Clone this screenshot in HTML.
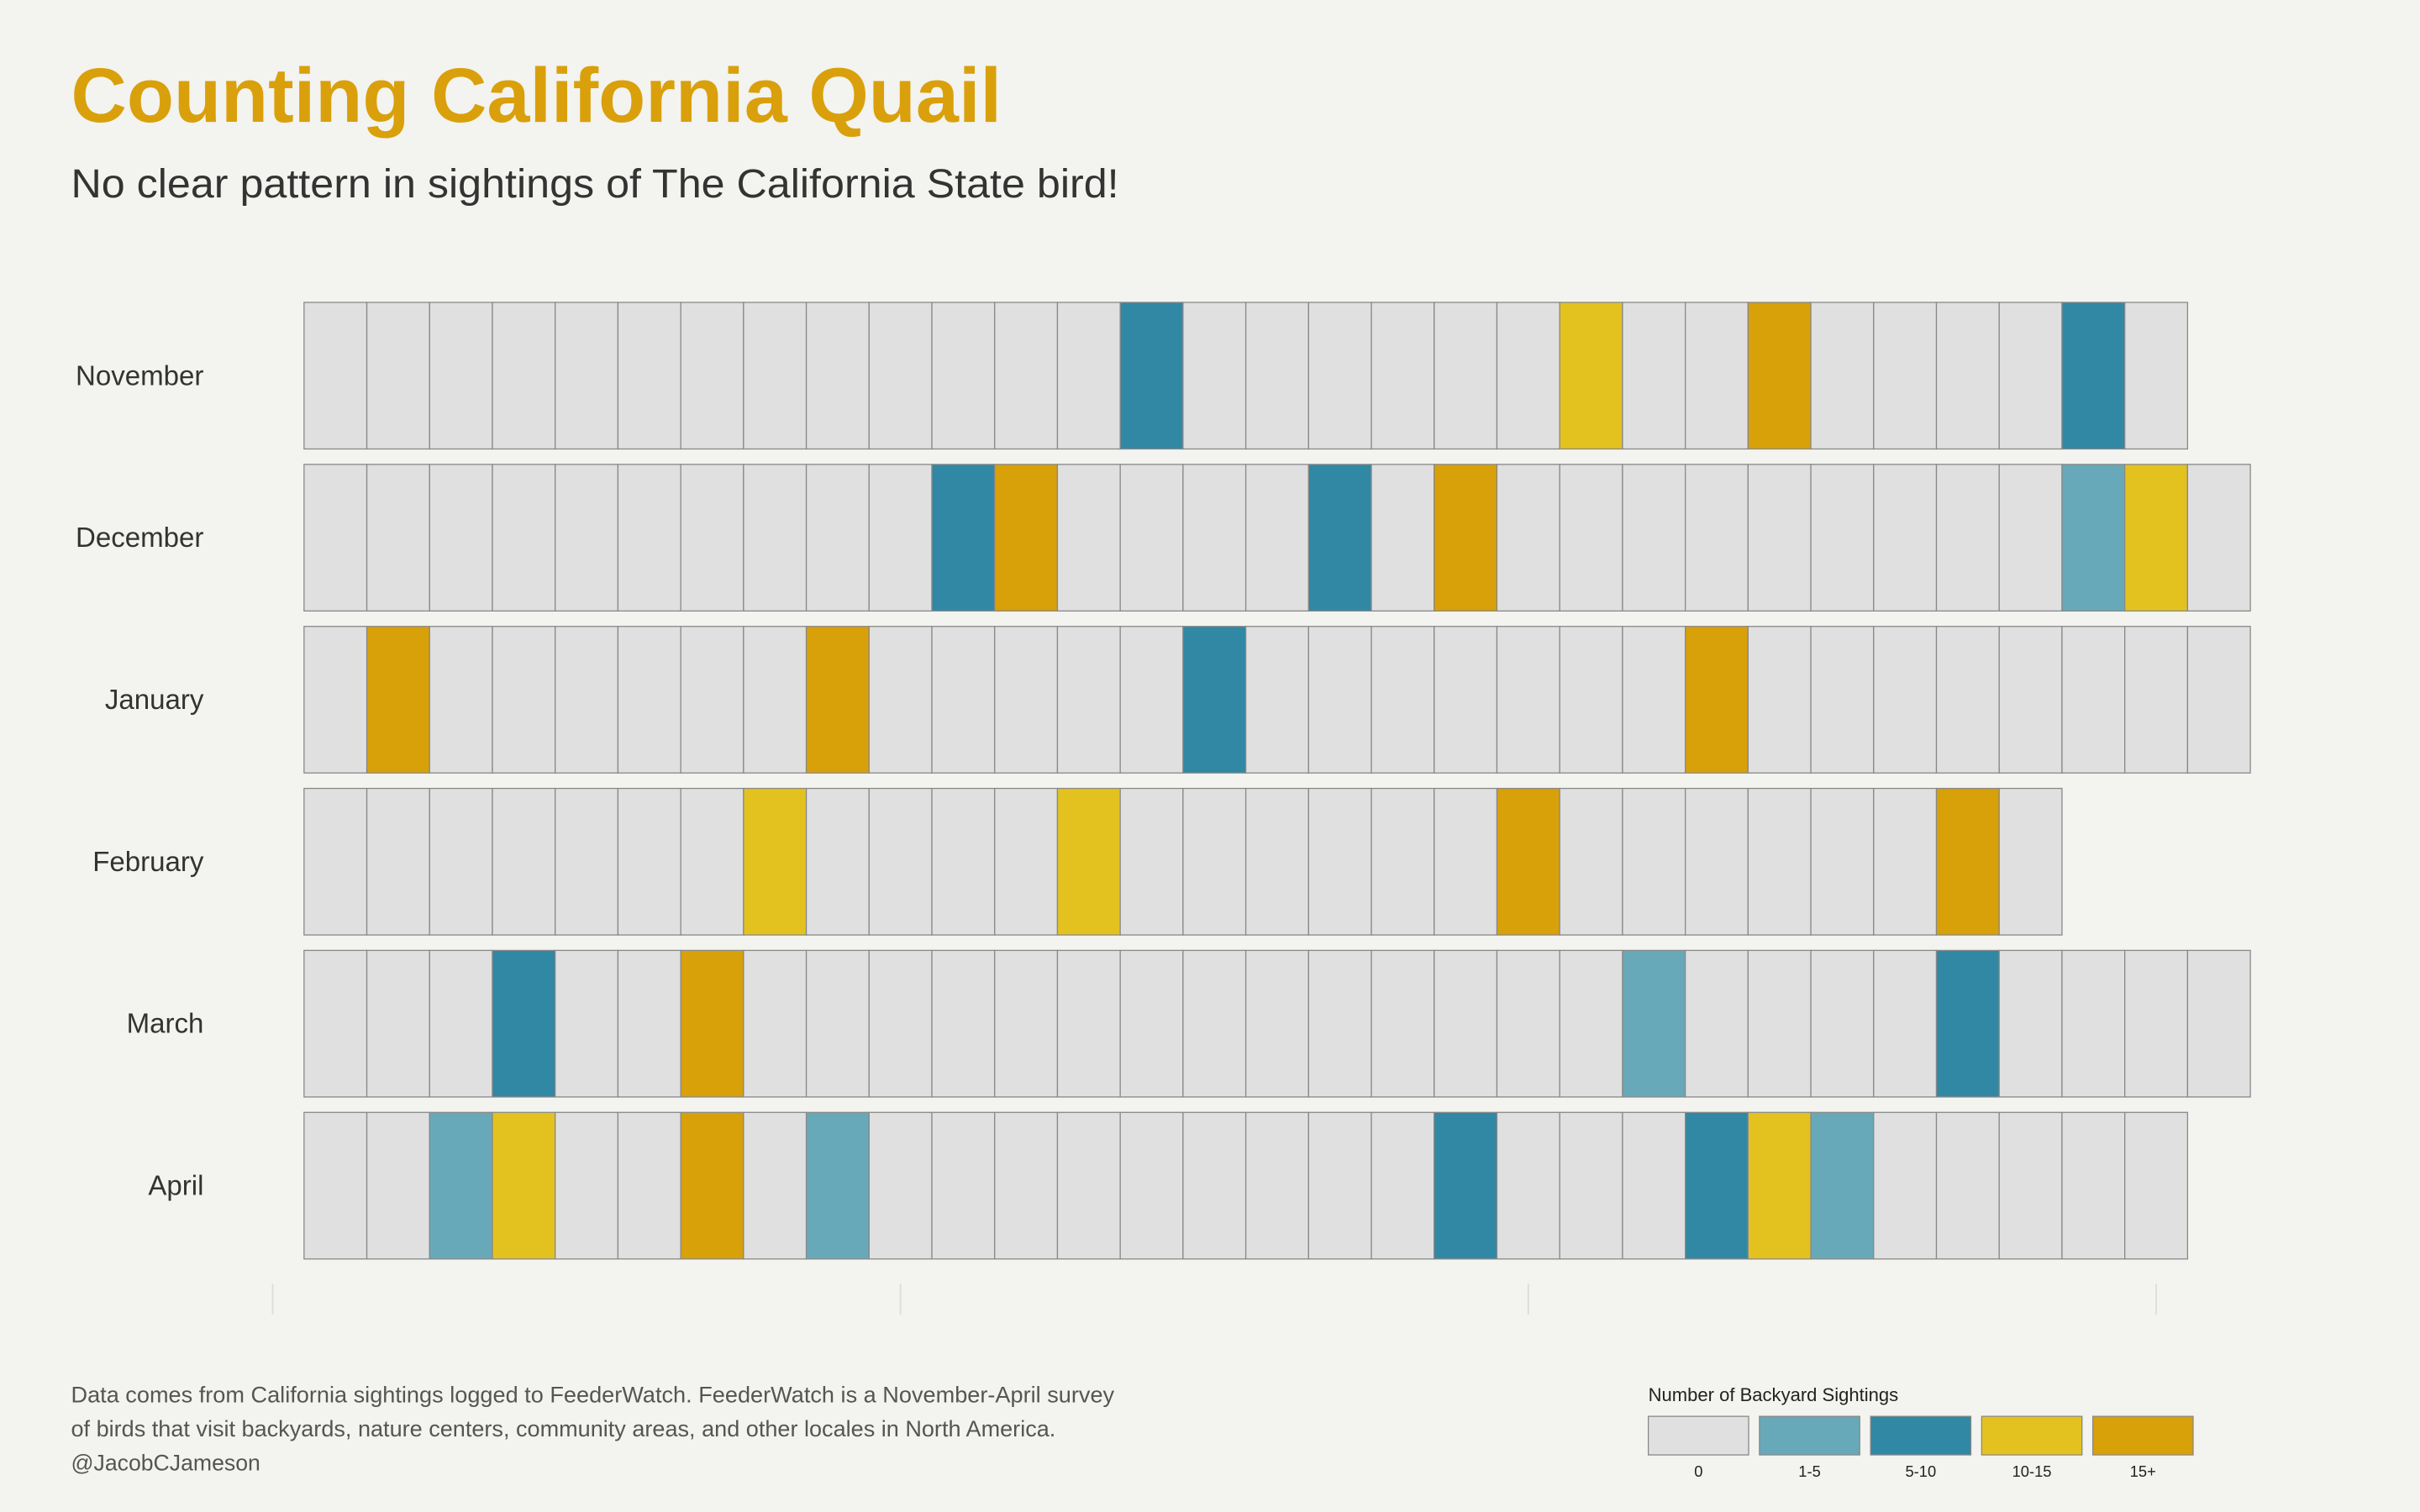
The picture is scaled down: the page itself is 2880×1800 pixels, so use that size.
<!DOCTYPE html>
<html><head><meta charset="utf-8">
<style>
html,body{margin:0;padding:0;background:#f3f3ef;}
svg{display:block;font-family:"Liberation Sans",sans-serif;}
</style></head>
<body>
<svg id="chart" width="2880" height="1800" viewBox="0 0 1568 980" xmlns="http://www.w3.org/2000/svg">
<rect width="1568" height="980" fill="#f3f3ef"/>
<text x="46" y="79" font-size="50" font-weight="bold" fill="#d9a00b" textLength="603">Counting California Quail</text>
<text x="46" y="128" font-size="26" fill="#333" textLength="679" lengthAdjust="spacingAndGlyphs">No clear pattern in sightings of The California State bird!</text>
<g id="ticks"></g>
<g id="grid"></g>
<g id="labels"></g>
<g font-size="14.5" fill="#555">
<text x="46" y="909" textLength="676" lengthAdjust="spacingAndGlyphs">Data comes from California sightings logged to FeederWatch. FeederWatch is a November-April survey</text>
<text x="46" y="931" textLength="638" lengthAdjust="spacingAndGlyphs">of birds that visit backyards, nature centers, community areas, and other locales in North America.</text>
<text x="46" y="953">@JacobCJameson</text>
</g>
<text x="1068" y="908" font-size="12" fill="#222">Number of Backyard Sightings</text>
<g id="legend"></g>
</svg>
<script>
const months = ["November","December","January","February","March","April"];
const daysInMonth = [30,31,31,28,31,30];
const categories = ["0","1-5","5-10","10-15","15+"];
const colors = ["#e0e0e0","#67a9b9","#3088a4","#e3c220","#d8a009"];
const novData = [0,0,0,0,0,0,0,0,0,0,0,0,0,2,0,0,0,0,0,0,3,0,0,4,0,0,0,0,2,0];
const decData = [0,0,0,0,0,0,0,0,0,0,2,4,0,0,0,0,2,0,4,0,0,0,0,0,0,0,0,0,1,3,0];
const janData = [0,4,0,0,0,0,0,0,4,0,0,0,0,0,2,0,0,0,0,0,0,0,4,0,0,0,0,0,0,0,0];
const febData = [0,0,0,0,0,0,0,3,0,0,0,0,3,0,0,0,0,0,0,4,0,0,0,0,0,0,4,0];
const marData = [0,0,0,2,0,0,4,0,0,0,0,0,0,0,0,0,0,0,0,0,0,1,0,0,0,0,2,0,0,0,0];
const aprData = [0,0,1,3,0,0,4,0,1,0,0,0,0,0,0,0,0,0,2,0,0,0,2,3,1,0,0,0,0,0];
const seriesData = [novData,decData,janData,febData,marData,aprData];
const tickDays = [0.5,10.5,20.5,30.5];

const NS="http://www.w3.org/2000/svg";
const x0=197, cw=40.68, y0=196, rh=95, rstep=105;
const xScale = d => x0 + (d-1)*cw;
const yScale = m => y0 + m*rstep;
function mk(tag, attrs, parent){const e=document.createElementNS(NS,tag);for(const k in attrs)e.setAttribute(k,attrs[k]);parent.appendChild(e);return e;}
const grid=document.getElementById('grid'), labels=document.getElementById('labels'), ticks=document.getElementById('ticks'), legend=document.getElementById('legend');
tickDays.forEach(t=>{
  const l=mk('line',{x1:xScale(t),x2:xScale(t),y1:832,y2:852,stroke:"#ddd","stroke-width":1},ticks);
  
  
});
months.forEach((m,i)=>{
  const t=mk('text',{x:132,y:yScale(i)+rh/2+6,'text-anchor':'end','font-size':18,fill:'#333'},labels);
  t.textContent=m;
  
  
  for(let d=1; d<=daysInMonth[i]; d++){
    const v=seriesData[i][d-1]||0;
    const r=mk('rect',{x:xScale(d),y:yScale(i),width:cw,height:rh,fill:colors[v],stroke:"#888","stroke-width":0.7},grid);
    
    
  }
});
categories.forEach((c,i)=>{
  const lx=1068+i*72;
  const r=mk('rect',{x:lx,y:918,width:65,height:25,fill:colors[i],stroke:"#888","stroke-width":0.7},legend);
  
  
  const t=mk('text',{x:lx+32.5,y:957,'text-anchor':'middle','font-size':10,fill:'#222'},legend);
  t.textContent=c;
  
  
});
</script>
</body></html>
